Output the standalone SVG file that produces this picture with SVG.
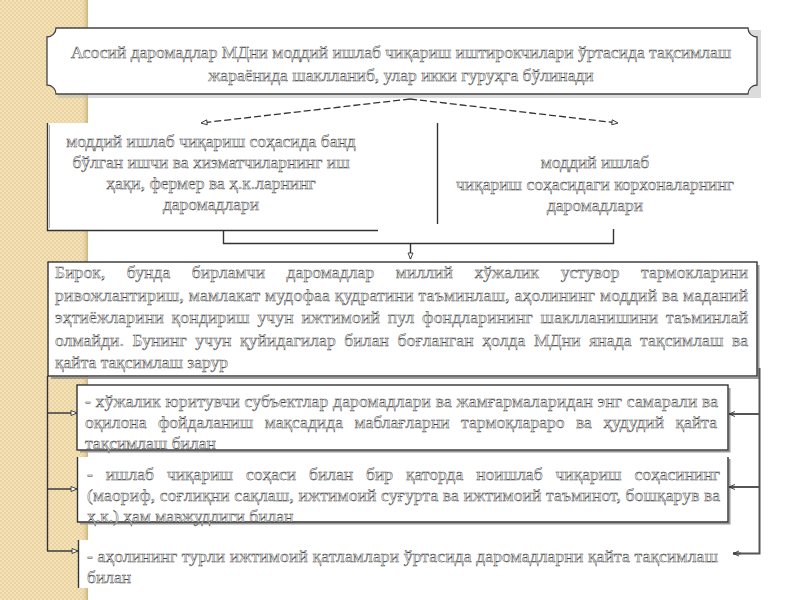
<svg xmlns="http://www.w3.org/2000/svg" width="800" height="600" viewBox="0 0 800 600">
<defs>
<pattern id="chk" width="4" height="4" patternUnits="userSpaceOnUse">
<rect width="4" height="4" fill="#f4e2bb"/>
<rect width="2" height="2" fill="#ead39f"/>
<rect x="2" y="2" width="2" height="2" fill="#ead39f"/>
</pattern>
<linearGradient id="edge" x1="0" x2="1" y1="0" y2="0">
<stop offset="0" stop-color="#e6cf9c" stop-opacity="0"/>
<stop offset="1" stop-color="#cdb27c"/>
</linearGradient>
<marker id="tri" viewBox="0 0 8 8" refX="7" refY="4" markerWidth="8" markerHeight="8" markerUnits="userSpaceOnUse" orient="auto">
<path d="M1,1.5 L7,4 L1,6.5 Z" fill="#fff" stroke="#333" stroke-width="0.9"/>
</marker>
<marker id="chev" viewBox="0 0 8 8" refX="7" refY="4" markerWidth="8" markerHeight="8" markerUnits="userSpaceOnUse" orient="auto">
<path d="M1,1.5 L7,4 L1,6.5" fill="none" stroke="#333" stroke-width="0.9"/>
</marker>
<style>
.t{font-family:"Liberation Serif","Times New Roman",serif;font-size:17.5px;fill:#fff;stroke:#3a3a3a;stroke-width:0.45px}
.c{text-anchor:middle}
.ln{fill:none;stroke:#333;stroke-width:1.4}
.br{fill:none;stroke:#555;stroke-width:2}
.dash{fill:none;stroke:#333;stroke-width:1.3;stroke-dasharray:7 3}
.box{fill:#fff;stroke:#333;stroke-width:1.4}
.sh{fill:none;stroke:#9a9a9a;stroke-width:2}
</style>
</defs>

<rect width="800" height="600" fill="#fff"/>
<rect x="0" y="0" width="88" height="600" fill="url(#chk)"/>
<rect x="82" y="0" width="6" height="600" fill="url(#edge)"/>

<g id="banner">
<path d="M58,30 H761 V98 H58 Z" fill="#b8b8b8" opacity="0.5"/>
<path d="M56,28 H748 A9,9 0 0 0 757,37 V85 A9,9 0 0 0 748,94 H56 A9,9 0 0 0 47,85 V37 A9,9 0 0 0 56,28 Z" fill="#fff" stroke="#444" stroke-width="1.3"/>
<text class="t c" x="401" y="58">Асосий даромадлар МДни моддий ишлаб чиқариш иштирокчилари ўртасида тақсимлаш</text>
<text class="t c" x="401" y="81">жараёнида шаклланиб, улар икки гуруҳга бўлинади</text>
</g>

<g id="box-left">
<rect x="47" y="123" width="331" height="107" fill="#fff"/>
<path d="M47.5,123 V230.5 H378" class="ln" stroke-width="2"/>
<path d="M49.5,125 V228" fill="none" stroke="#aaa" stroke-width="1"/>
<text class="t c" x="211" y="147">моддий ишлаб чиқариш соҳасида банд</text>
<text class="t c" x="211" y="168">бўлган ишчи ва хизматчиларнинг иш</text>
<text class="t c" x="211" y="189">ҳақи, фермер ва ҳ.к.ларнинг</text>
<text class="t c" x="211" y="210">даромадлари</text>
</g>

<g id="box-right">
<path d="M437.5,123 V224" class="ln" stroke-width="1.6"/>
<text class="t c" x="595" y="168">моддий ишлаб</text>
<text class="t c" x="595" y="190">чиқариш соҳасидаги корхоналарнинг</text>
<text class="t c" x="595" y="211">даромадлари</text>
</g>

<g id="box-main">
<path d="M758.5,265 V378 H51" class="sh"/>
<rect x="48" y="262" width="709" height="114" class="box"/>
<text class="t" x="55" y="278" textLength="693" lengthAdjust="spacing" style="word-spacing:17px">Бирок, бунда бирламчи даромадлар миллий хўжалик устувор тармокларини</text>
<text class="t" x="55" y="301" textLength="693" lengthAdjust="spacing">ривожлантириш, мамлакат мудофаа қудратини таъминлаш, аҳолининг моддий ва маданий</text>
<text class="t" x="55" y="323" textLength="693" lengthAdjust="spacing" style="word-spacing:3px">эҳтиёжларини қондириш учун ижтимоий пул фондларининг шаклланишини таъминлай</text>
<text class="t" x="55" y="346" textLength="693" lengthAdjust="spacing" style="word-spacing:4px">олмайди. Бунинг учун қуйидагилар билан боғланган ҳолда МДни янада тақсимлаш ва</text>
<text class="t" x="55" y="368">қайта тақсимлаш зарур</text>
</g>

<g id="item-1">
<path d="M729.5,388 V451.5 H80" class="sh"/>
<rect x="77" y="385" width="651" height="65" class="box"/>
<text class="t" x="85" y="407" textLength="633" lengthAdjust="spacing">- хўжалик юритувчи субъектлар даромадлари ва жамғармаларидан энг самарали ва</text>
<text class="t" x="85" y="428" textLength="632" lengthAdjust="spacing" style="word-spacing:7px">оқилона фойдаланиш мақсадида маблағларни тармоқлараро ва ҳудудий қайта</text>
<text class="t" x="85" y="449">тақсимлаш билан</text>
</g>

<g id="item-2">
<rect x="77" y="457" width="651" height="65" fill="#fff"/>
<path d="M729.5,459 V523.5 H80" class="sh"/>
<path d="M77.5,457 V522 H728 V457" class="ln"/>
<text class="t" x="87" y="480" textLength="633" lengthAdjust="spacing" style="word-spacing:8.5px">- ишлаб чиқариш соҳаси билан бир қаторда ноишлаб чиқариш соҳасининг</text>
<text class="t" x="87" y="501" textLength="633" lengthAdjust="spacing">(маориф, соғлиқни сақлаш, ижтимоий суғурта ва ижтимоий таъминот, бошқарув ва</text>
<text class="t" x="87" y="522">ҳ.к.) ҳам мавжудлиги билан</text>
</g>

<g id="item-3">
<rect x="78" y="540" width="660" height="48" fill="#fff"/>
<path d="M78.5,540 V588" class="ln"/>
<text class="t" x="87" y="562" textLength="631" lengthAdjust="spacing">- аҳолининг турли ижтимоий қатламлари ўртасида даромадларни қайта тақсимлаш</text>
<text class="t" x="87" y="583">билан</text>
</g>

<g id="connectors">
<path d="M410,99 L201,123" class="dash" marker-end="url(#tri)"/>
<path d="M410,99 L618,123" class="dash" marker-end="url(#tri)"/>
<path d="M223.5,230 V243.5 H613.5 V229" class="ln"/>
<path d="M410.5,243 V259" class="ln" stroke-width="1" marker-end="url(#tri)"/>
<path d="M47.5,376 V551" class="ln"/>
<path d="M47,413 H77" class="ln" marker-end="url(#tri)"/>
<path d="M47,489 H77" class="ln" marker-end="url(#tri)"/>
<path d="M47,551 H78" class="ln" marker-end="url(#tri)"/>
<path d="M759.5,368 V553.5 H733" class="br"/>
<path d="M759,414 H729" class="br" marker-end="url(#chev)"/>
<path d="M759,487 H729" class="br" marker-end="url(#chev)"/>
<path d="M741,553.5 H733" class="br" marker-end="url(#chev)"/>
</g>
</svg>
